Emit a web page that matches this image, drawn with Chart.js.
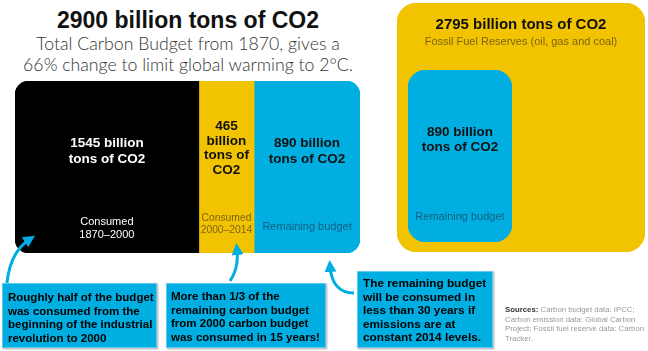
<!DOCTYPE html>
<html>
<head>
<meta charset="utf-8">
<script src="https://cdn.jsdelivr.net/npm/chart.js@4.4.1/dist/chart.umd.min.js"></script>
<style>
  html, body { margin: 0; padding: 0; background: #fff; }
  body { width: 648px; height: 351px; position: relative; overflow: hidden; font-family: "Helvetica Neue", "Liberation Sans", Arial, sans-serif; }
  .abs { position: absolute; }
  #title { left: 0; width: 376px; top: 6px; text-align: center; font-weight: bold; font-size: 23px; color: #111; line-height: 28px; }
  #subtitle { left: 0; width: 376px; top: 34px; text-align: center; font-family: "Lato", "Helvetica Neue", sans-serif; font-weight: 300; font-size: 17.7px; line-height: 20.5px; color: #333; }
  .box { background: #00aee2; border: 1px solid #62c9ee; box-shadow: 1px 1px 2px rgba(0,0,0,0.35); color: #000; font-weight: bold; font-size: 11.5px; line-height: 13.5px; box-sizing: border-box; white-space: nowrap; overflow: hidden; }
  #sources { left: 505px; top: 305px; width: 143px; font-size: 7.8px; line-height: 9.7px; color: #999; }
  #sources b { color: #333; }
</style>
</head>
<body>
<div id="title" class="abs">2900 billion tons of CO2</div>
<div id="subtitle" class="abs">Total Carbon Budget from 1870, gives a<br>66% change to limit global warming to 2°C.</div>

<div class="abs" style="left:15px;top:81px;width:345px;height:172px"><canvas id="budgetChart"></canvas></div>
<div class="abs" style="left:397px;top:3px;width:248px;height:249px"><canvas id="reserveChart"></canvas></div>
<div class="abs" style="left:408px;top:70px;width:104px;height:172px"><canvas id="remainChart"></canvas></div>

<svg class="abs" style="left:0;top:0" width="648" height="351">
  <defs>
    <marker id="head" markerWidth="4" markerHeight="4" refX="2" refY="2" orient="auto" markerUnits="strokeWidth">
      <path d="M0,0 L4,2 L0,4 z" fill="#00aee2"/>
    </marker>
  </defs>
  <g fill="none" stroke="#00aee2" stroke-width="3">
    <path d="M7,283 Q10,252 30,239" marker-end="url(#head)"/>
    <path d="M230,281 Q239,268 237,249" marker-end="url(#head)"/>
    <path d="M354,293 Q332,293 330,266" marker-end="url(#head)"/>
  </g>
</svg>

<div class="abs box" style="left:2px;top:283px;width:155px;height:65px;padding:7px 0 0 5px">Roughly half of the budget<br>was consumed from the<br>beginning of the industrial<br>revolution to 2000</div>
<div class="abs box" style="left:166px;top:283px;width:160px;height:65px;padding:6px 0 0 4px">More than 1/3 of the<br>remaining carbon budget<br>from 2000 carbon budget<br>was consumed in 15 years!</div>
<div class="abs box" style="left:357px;top:271px;width:136px;height:77px;padding:5px 0 0 5px;font-size:11.8px">The remaining budget<br>will be consumed in<br>less than 30 years if<br>emissions are at<br>constant 2014 levels.</div>

<div id="sources" class="abs"><b>Sources:</b> Carbon budget data: IPCC; Carbon emission data: Global Carbon Project; Fossil fuel reserve data: Carbon Tracker.</div>

<script>
// carbon budget split (billion tons of CO2)
const budgetCategories = ["Consumed 1870–2000", "Consumed 2000–2014", "Remaining budget"]
const budgetValues = [1545, 465, 890]
const budgetTotal = 2900
const budgetColors = ["#000000", "#f2c300", "#00aee2"]

// fossil fuel reserves vs remaining budget
const reserveValues = [2795]
const remainValues = [890]

const budgetMainLines = [
    ["1545 billion", "tons of CO2"],
    ["465", "billion", "tons of", "CO2"],
    ["890 billion", "tons of CO2"]
]
const budgetSubLines = [
    ["Consumed", "1870–2000"],
    ["Consumed", "2000–2014"],
    ["Remaining budget"]
]

const FONT = "'Helvetica Neue', 'Liberation Sans', Arial, sans-serif"

const drawLines = (ctx, lines, cx, y, gap, font, color) => {
    ctx.font = font
    ctx.fillStyle = color
    ctx.textAlign = "center"
    ctx.textBaseline = "middle"
    lines.forEach((l, i) => ctx.fillText(l, cx, y + i * gap))
}

// writes the labels stored on each dataset into its bar
const barText = {
    id: "barText",
    afterDatasetsDraw(chart) {
        const ctx = chart.ctx
        ctx.save()
        chart.data.datasets.forEach((ds, i) => {
            const el = chart.getDatasetMeta(i).data[0]
            if (!el || !ds.textBlocks) return
            const horizontal = chart.options.indexAxis === "y"
            const cx = horizontal ? (el.x + el.base) / 2 : el.x
            const top = horizontal ? el.y - el.height / 2 : el.y
            ds.textBlocks.forEach(b => drawLines(ctx, b.lines, cx, top + b.y, b.gap, b.font, b.color))
        })
        ctx.restore()
    }
}

const bold = "bold 13.5px " + FONT
const small = "11px " + FONT
const mainY = [62, 45, 62]
const mainGap = [16, 14.8, 16]
const subY = [141, 137, 146]
const subFonts = [small, "10.3px " + FONT, small]
const subColors = ["#ffffff", "#7d6510", "#14607f"]
const mainColors = ["#ffffff", "#111111", "#111111"]
const radii = [
    { topLeft: 14, bottomLeft: 14, topRight: 0, bottomRight: 0 },
    0,
    { topLeft: 0, bottomLeft: 0, topRight: 14, bottomRight: 14 }
]

new Chart(document.querySelector("#budgetChart"), {
    type: "bar",
    data: {
        labels: ["Total carbon budget"],
        datasets: budgetValues.map((v, i) => ({
            label: budgetCategories[i],
            data: [v],
            backgroundColor: budgetColors[i],
            borderWidth: 0,
            borderSkipped: false,
            borderRadius: radii[i],
            barPercentage: 1,
            categoryPercentage: 1,
            textBlocks: [
                { lines: budgetMainLines[i], y: mainY[i], gap: mainGap[i], font: bold, color: mainColors[i] },
                { lines: budgetSubLines[i], y: subY[i], gap: 12.5, font: subFonts[i], color: subColors[i] }
            ]
        }))
    },
    options: {
        indexAxis: "y",
        responsive: true,
        maintainAspectRatio: false,
        animation: false,
        layout: { padding: 0 },
        scales: {
            x: { stacked: true, min: 0, max: budgetTotal, display: false },
            y: { stacked: true, display: false }
        },
        plugins: { legend: { display: false }, tooltip: { enabled: false } }
    },
    plugins: [barText]
})

const singleBox = (canvas, values, color, radius, blocks) => new Chart(canvas, {
    type: "bar",
    data: {
        labels: [""],
        datasets: [{
            data: values,
            backgroundColor: color,
            borderWidth: 0,
            borderSkipped: false,
            borderRadius: radius,
            barPercentage: 1,
            categoryPercentage: 1,
            textBlocks: blocks
        }]
    },
    options: {
        responsive: true,
        maintainAspectRatio: false,
        animation: false,
        layout: { padding: 0 },
        scales: {
            x: { display: false },
            y: { min: 0, max: values[0], display: false }
        },
        plugins: { legend: { display: false }, tooltip: { enabled: false } }
    },
    plugins: [barText]
})

singleBox(document.querySelector("#reserveChart"), reserveValues, "#f2c300", 20, [
    { lines: [reserveValues[0] + " billion tons of CO2"], y: 22, gap: 0, font: "bold 15px " + FONT, color: "#111111" },
    { lines: ["Fossil Fuel Reserves (oil, gas and coal)"], y: 39, gap: 0, font: small, color: "#7d6510" }
])

singleBox(document.querySelector("#remainChart"), remainValues, "#00aee2", 18, [
    { lines: [remainValues[0] + " billion", "tons of CO2"], y: 62, gap: 15.5, font: bold, color: "#111111" },
    { lines: ["Remaining budget"], y: 147, gap: 0, font: small, color: "#14607f" }
])
</script>
</body>
</html>
